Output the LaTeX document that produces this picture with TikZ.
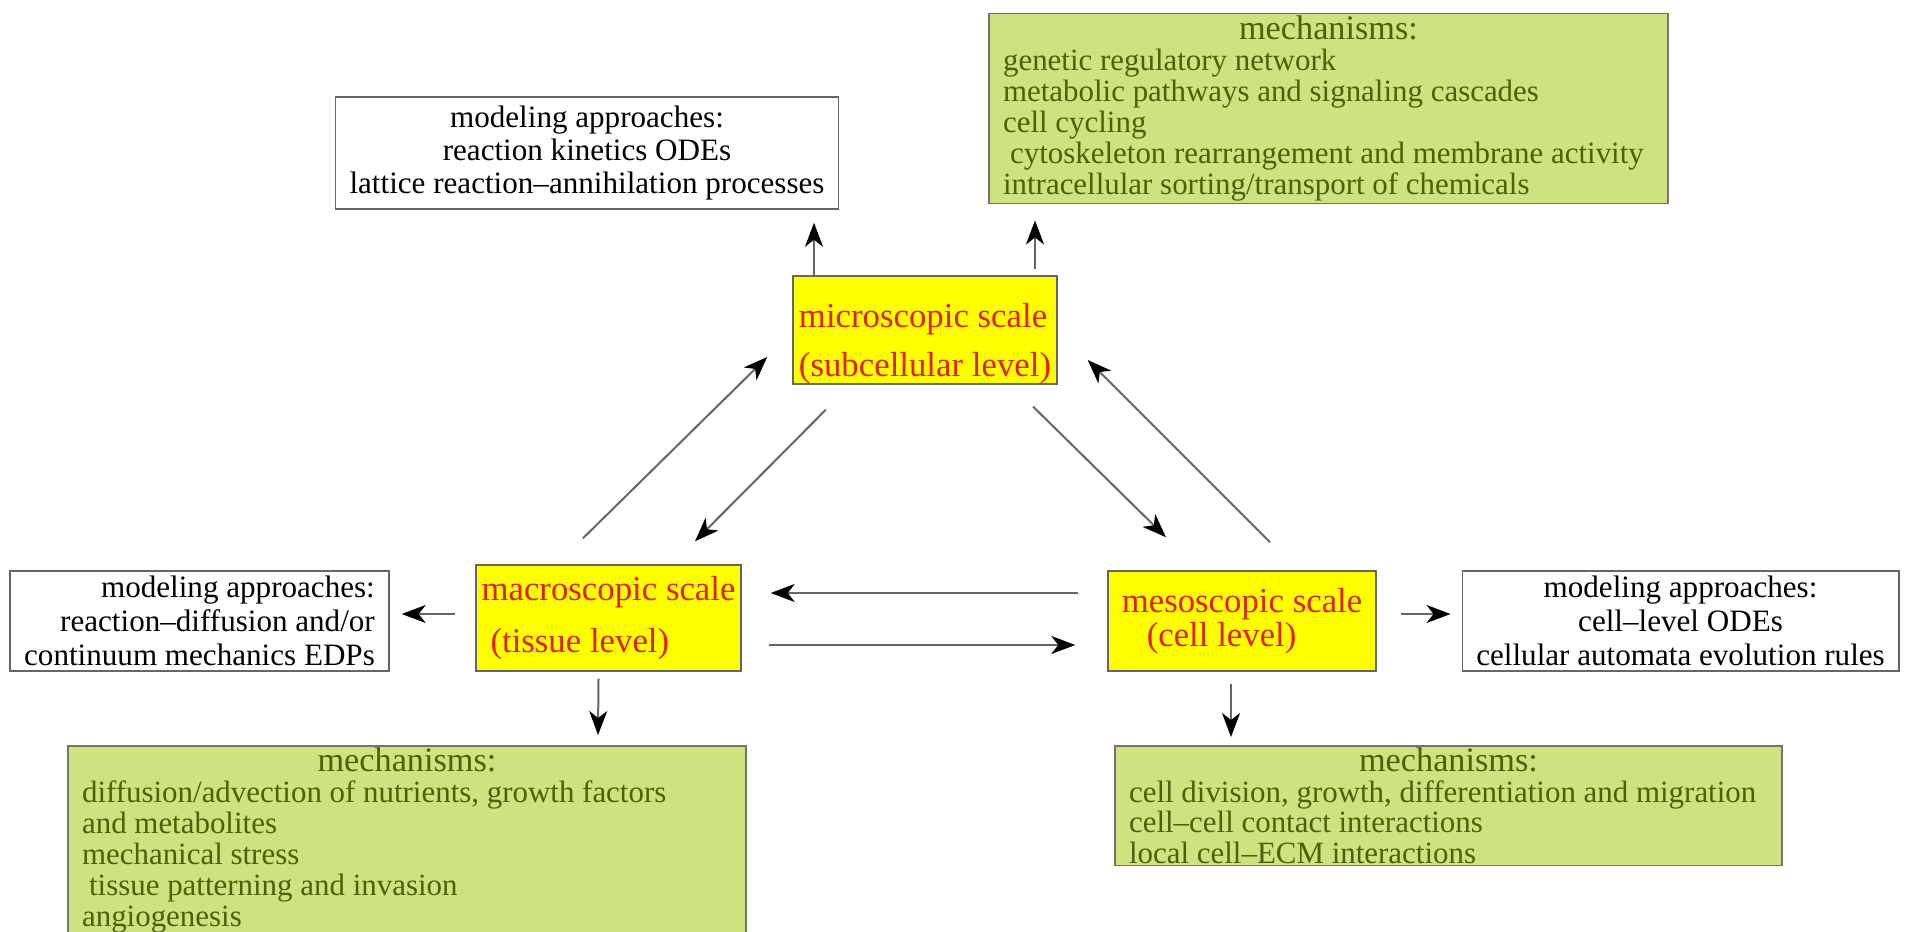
\documentclass[tikz,border=0pt]{standalone}
\usepackage{fontspec}
\setmainfont{Liberation Serif}
\usetikzlibrary{arrows.meta,calc}

\definecolor{scaleyellow}{RGB}{255,255,0}
\definecolor{scalered}{RGB}{226,32,26}
\definecolor{mechgreen}{RGB}{205,227,128}
\definecolor{mechtext}{RGB}{76,96,10}

\newcommand{\mechhead}[1]{\makebox[#1]{\fontsize{19.5}{17.6}\selectfont mechanisms:}}

\begin{document}
\begin{tikzpicture}[x=0.02cm,y=-0.02cm,
  scale box/.style={draw=black!60, line width=0.03cm, fill=scaleyellow, text=scalered,
    align=left, inner sep=0pt, minimum height=2.12cm},
  approach box/.style={draw=black!60, line width=0.03cm, fill=white, inner xsep=0.28cm,
    inner ysep=0pt, minimum height=2cm, font=\fontsize{17.7}{19.5}\selectfont},
  mech box/.style={draw=black!55, line width=0.03cm, fill=mechgreen, text=mechtext,
    align=left, anchor=north, inner xsep=0.28cm, inner ysep=0.04cm,
    font=\fontsize{17.6}{17.6}\selectfont},
  link/.style={draw=black!60, line width=0.04cm,
    -{Stealth[length=0.48cm, width=0.36cm, inset=0.14cm, color=black]}}]
  \path[use as bounding box, clip] (0,0) rectangle (1905,932);

  \node[scale box, minimum width=5.28cm, font=\fontsize{19.8}{28}\selectfont] (micro) at (925,330)
    {\rule{0pt}{29pt}microscopic scale\\(subcellular level)};
  \node[scale box, minimum width=5.3cm, font=\fontsize{19.8}{29.6}\selectfont] (macro) at (608.5,618)
    {macroscopic scale\\\hspace*{0.18cm}(tissue level)};
  \node[scale box, minimum width=5.36cm, minimum height=2cm, font=\fontsize{19.8}{19.4}\selectfont] (meso) at (1242,621)
    {mesoscopic scale\\\hspace*{0.5cm}(cell level)};

  \node[approach box, align=center, minimum width=10cm, minimum height=2.24cm,
    font=\fontsize{17.7}{18.8}\selectfont] (appMicro) at (587,153)
    {modeling approaches:\\reaction kinetics ODEs\\lattice reaction--annihilation processes};
  \node[approach box, align=right, minimum width=7.58cm] (appMacro) at (199.5,621)
    {modeling approaches:\\reaction--diffusion and/or\\continuum mechanics EDPs};
  \node[approach box, align=center, minimum width=8.58cm] (appMeso) at (1680.5,621)
    {modeling approaches:\\cell--level ODEs\\cellular automata evolution rules};

  \node[mech box, minimum height=3.8cm] (mechMicro) at (1328.5,13)
    {\mechhead{13.02cm}\\genetic regulatory network\\metabolic pathways and signaling cascades\\cell cycling\\
     \hspace*{4pt}cytoskeleton rearrangement and membrane activity\\intracellular sorting/transport of chemicals};
  \node[mech box] (mechMacro) at (407,745)
    {\mechhead{13cm}\\diffusion/advection of nutrients, growth factors\\and metabolites\\mechanical stress\\
     \hspace*{4pt}tissue patterning and invasion\\angiogenesis};
  \node[mech box, inner ysep=0pt, minimum height=2.4cm] (mechMeso) at (1448.5,745)
    {\mechhead{12.78cm}\\cell division, growth, differentiation and migration\\cell--cell contact interactions\\local cell--ECM interactions};

  \draw[link] ($(micro.north)+(-111,0)$) -- ($(appMicro.south)+(227,13)$);
  \draw[link] ($(micro.north)+(110,-6)$) -- ($(mechMicro.south)+(-293.5,16)$);
  \draw[link] ($(macro.west)+(-20,-4)$) -- ($(appMacro.east)+(12,-7)$);
  \draw[link] ($(macro.east)+(27,27)$) -- ($(meso.west)+(-32,24)$);
  \draw[link] ($(meso.west)+(-29,-28)$) -- ($(macro.east)+(29,-25)$);
  \draw[link] ($(meso.east)+(24,-7)$) -- ($(appMeso.west)+(-11,-7)$);
  \draw[link] ($(macro.south)+(-10,7)$) -- ($(mechMacro.north)+(191,-10)$);
  \draw[link] ($(meso.south)+(-11,12)$) -- ($(mechMeso.north)+(-217.5,-8)$);
  \draw[link] ($(macro.north)+(-25.5,-26)$) -- ($(micro.west)+(-25,27)$);
  \draw[link] ($(micro.south)+(-99,25)$) -- ($(macro.north)+(86.5,-23)$);
  \draw[link] ($(micro.south)+(108,22)$) -- ($(meso.north)+(-76,-33)$);
  \draw[link] ($(meso.north)+(28,-28)$) -- ($(micro.east)+(30,30)$);
\end{tikzpicture}
\end{document}
